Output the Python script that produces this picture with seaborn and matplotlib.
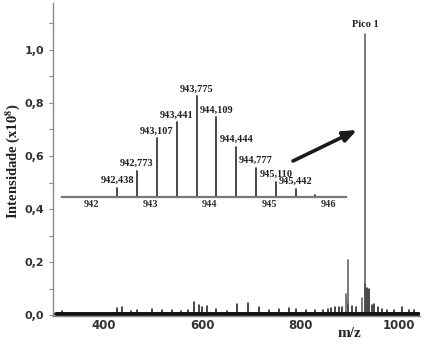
import numpy as np
import pandas as pd
import matplotlib
matplotlib.use("Agg")
import matplotlib.pyplot as plt
import seaborn as sns

# ---------------- data ----------------
# main spectrum: m/z positions and intensities (x10^8)
tall_mz = [892, 895.6, 924, 932]
tall_int = [0.08, 0.207, 0.065, 1.06]

small_mz = [314, 427, 436, 455, 466, 497, 517, 538, 556, 570, 583, 593, 600,
            610, 627, 650, 671, 692, 715, 735, 756, 776, 790, 810, 830, 845,
            855, 862, 870, 878, 885, 897, 905, 912, 931, 935, 939, 945, 950,
            958, 966, 975, 990, 1006, 1020, 1030]
small_int = [0.018, 0.028, 0.03, 0.015, 0.02, 0.025, 0.02, 0.02, 0.018, 0.02,
             0.05, 0.04, 0.03, 0.035, 0.025, 0.015, 0.045, 0.048, 0.03, 0.02,
             0.025, 0.028, 0.025, 0.02, 0.02, 0.02, 0.025, 0.028, 0.03, 0.03,
             0.03, 0.045, 0.035, 0.03, 0.12, 0.105, 0.098, 0.04, 0.045,
             0.03, 0.025, 0.022, 0.02, 0.03, 0.02, 0.022]

baseline_mz = [302, 1040]
baseline_int = [0.006, 0.006]

# inset: isotopic cluster
iso_mz = [942.438, 942.773, 943.107, 943.441, 943.775, 944.109, 944.444,
          944.777, 945.110, 945.442, 945.775]
iso_int = [9, 26, 58, 74, 100, 79, 50, 29, 15, 8, 2]
iso_labels = ["942,438", "942,773", "943,107", "943,441", "943,775",
              "944,109", "944,444", "944,777", "945,110", "945,442", ""]
iso_ticks = [942, 943, 944, 945, 946]

main_xticks = [400, 600, 800, 1000]
main_yticks = [0.0, 0.2, 0.4, 0.6, 0.8, 1.0]
main_yticklabels = ["0,0", "0,2", "0,4", "0,6", "0,8", "1,0"]

# ---------------- style ----------------
sns.set_style("ticks")
plt.rcParams["font.family"] = ["DejaVu Sans"]
plt.rcParams["mathtext.fontset"] = "stix"

SERIF = ["Liberation Serif", "DejaVu Serif"]
TICKC = "#333333"
SPINEC = "#8a8a8a"


def sticks(mz, inten, kind):
    rows = []
    for i, (m, h) in enumerate(zip(mz, inten)):
        rows.append({"mz": m, "I": 0.0, "pk": f"{kind}{i}", "kind": kind})
        rows.append({"mz": m, "I": h, "pk": f"{kind}{i}", "kind": kind})
    return rows


fig = plt.figure(figsize=(4.29, 3.48), dpi=100)
ax = fig.add_axes([53 / 429, (348 - 316) / 348, 367 / 429, 313 / 348])

df_main = pd.DataFrame(sticks(small_mz, small_int, "small") + sticks(tall_mz, tall_int, "tall"))
sns.lineplot(data=df_main, x="mz", y="I", units="pk", estimator=None,
             hue="kind", palette={"small": "#151515", "tall": "#555555"},
             linewidth=1.1, legend=False, ax=ax)
sns.lineplot(x=baseline_mz, y=baseline_int, color="#111111", linewidth=2.8, ax=ax)

ax.set_xlim(296, 1043)
ax.set_ylim(-0.002, 1.175)
ax.set_xticks(main_xticks)
ax.set_xticks([500, 700, 900], minor=True)
ax.set_yticks(main_yticks)
ax.set_yticklabels(main_yticklabels)
ax.set_yticks([0.1, 0.3, 0.5, 0.7, 0.9, 1.1], minor=True)
for lab in ax.get_xticklabels() + ax.get_yticklabels():
    lab.set_fontweight("bold")
    lab.set_color(TICKC)
ax.tick_params(axis="y", which="both", direction="out", length=3, width=0.8,
               color=SPINEC, labelsize=8, pad=3.5)
ax.tick_params(axis="x", which="both", direction="in", length=3, width=0.8,
               color=SPINEC, labelsize=8.5, pad=2)
sns.despine(ax=ax, top=True, right=True)
for s in ("left", "bottom"):
    ax.spines[s].set_color(SPINEC)
    ax.spines[s].set_linewidth(1.0)

ax.set_ylabel(r"Intensidade (x10$^{\mathbf{8}}$)", family=SERIF,
              fontweight="bold", fontsize=10.5, color="#222222")
ax.yaxis.set_label_coords((22 - 53) / 367, (316 - 161) / 313)
ax.set_xlabel("m/z", family=SERIF, fontweight="bold", fontsize=11,
              color="#222222")
ax.xaxis.set_label_coords((349 - 53) / 367, (316 - 327) / 313)

ax.annotate("Pico 1", xy=(932, 1.06), xytext=(0, 3), textcoords="offset points",
            ha="center", va="bottom", family=SERIF, fontweight="bold",
            fontsize=7.5, color="#222222")

# arrow
ax.annotate("", xy=(357 / 429, 1 - 130 / 348), xycoords="figure fraction",
            xytext=(293 / 429, 1 - 161 / 348), textcoords="figure fraction",
            arrowprops=dict(arrowstyle="-|>,head_length=0.8,head_width=0.32",
                            lw=2.6, color="#1a1a1a", shrinkA=0, shrinkB=0,
                            mutation_scale=10))

# ---------------- inset ----------------
ins = fig.add_axes([62 / 429, (348 - 197) / 348, 284 / 429, 112 / 348])
ins.patch.set_alpha(0)
df_iso = pd.DataFrame(sticks(iso_mz, iso_int, "iso"))
sns.lineplot(data=df_iso, x="mz", y="I", units="pk", estimator=None,
             color="#3a3a3a", linewidth=1.3, legend=False, ax=ins)
ins.set_xlim(941.51, 946.29)
ins.set_ylim(0, 111)
ins.set_xticks(iso_ticks)
ins.set_xticklabels([str(t) for t in iso_ticks])
ins.set_yticks([])
ins.set_xlabel("")
ins.set_ylabel("")
for s in ("left", "right", "top"):
    ins.spines[s].set_visible(False)
ins.spines["bottom"].set_color("#777777")
ins.spines["bottom"].set_linewidth(1.6)
ins.tick_params(axis="x", length=0, pad=2.5, labelsize=7.5, colors=TICKC)
for lab in ins.get_xticklabels():
    lab.set_family(SERIF)
    lab.set_fontweight("bold")

for m, h, t in zip(iso_mz, iso_int, iso_labels):
    if t:
        ins.annotate(t, xy=(m, h), xytext=(0, 2), textcoords="offset points",
                     ha="center", va="bottom", family=SERIF,
                     fontweight="bold", fontsize=7.5, color="#222222")

fig.savefig("out.png", dpi=100)
